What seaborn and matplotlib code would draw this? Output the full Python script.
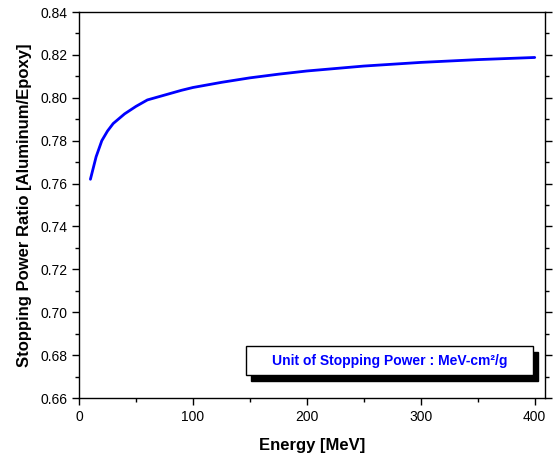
import pandas as pd
import matplotlib
matplotlib.use("Agg")
import matplotlib.pyplot as plt
import seaborn as sns
from matplotlib.patches import Rectangle
from matplotlib.ticker import MultipleLocator, FormatStrFormatter

energy = [10, 15, 20, 25, 30, 40, 50, 60, 70, 80, 90, 100, 125, 150, 175,
          200, 250, 300, 350, 400]
ratio = [0.762, 0.7725, 0.7800, 0.7845, 0.7880, 0.7925, 0.7960, 0.7990,
         0.8005, 0.8020, 0.8035, 0.8048, 0.8072, 0.8093, 0.8110, 0.8125,
         0.8148, 0.8165, 0.8178, 0.8188]

df = pd.DataFrame({"energy": energy, "ratio": ratio})

sns.set_style("ticks")
plt.rcParams["font.family"] = ["Liberation Sans", "DejaVu Sans"]
plt.rcParams["text.color"] = "black"
plt.rcParams["axes.labelcolor"] = "black"
plt.rcParams["xtick.color"] = "black"
plt.rcParams["ytick.color"] = "black"

fig = plt.figure(figsize=(5.53, 4.62), dpi=100)
ax = fig.add_axes([0.1429, 0.1385, 0.8426, 0.8355])

sns.lineplot(data=df, x="energy", y="ratio", ax=ax, color="#0000ff",
             linewidth=2)

ax.set_xlim(0, 409)
ax.set_ylim(0.66, 0.84)
ax.xaxis.set_major_locator(MultipleLocator(100))
ax.xaxis.set_minor_locator(MultipleLocator(50))
ax.yaxis.set_major_locator(MultipleLocator(0.02))
ax.yaxis.set_minor_locator(MultipleLocator(0.01))
ax.yaxis.set_major_formatter(FormatStrFormatter("%.2f"))
ax.tick_params(which="major", length=5, width=1, labelsize=10,
               direction="out", right=True, colors="black")
ax.tick_params(which="minor", length=3, width=1, direction="out", right=True,
               colors="black")
for s in ax.spines.values():
    s.set_visible(True)
    s.set_linewidth(1)
    s.set_color("black")

ax.set_xlabel("Energy [MeV]", fontsize=12, fontweight="bold", labelpad=10)
ax.set_ylabel("Stopping Power Ratio [Aluminum/Epoxy]", fontsize=12,
              fontweight="bold", labelpad=6)

# note box with drop shadow
x0, y0, w, h = 0.358, 0.0596, 0.616, 0.0751
ax.add_patch(Rectangle((x0 + 0.0107, y0 - 0.0165), w, h, transform=ax.transAxes,
                       facecolor="black", edgecolor="black", zorder=4))
ax.add_patch(Rectangle((x0, y0), w, h, transform=ax.transAxes,
                       facecolor="white", edgecolor="black", linewidth=1,
                       zorder=5))
ax.text(x0 + w / 2, y0 + h / 2, "Unit of Stopping Power : MeV-cm²/g",
        transform=ax.transAxes, ha="center", va="center", fontsize=10,
        fontweight="bold", color="#0000ff", zorder=6)

fig.savefig("out.png", dpi=100)
